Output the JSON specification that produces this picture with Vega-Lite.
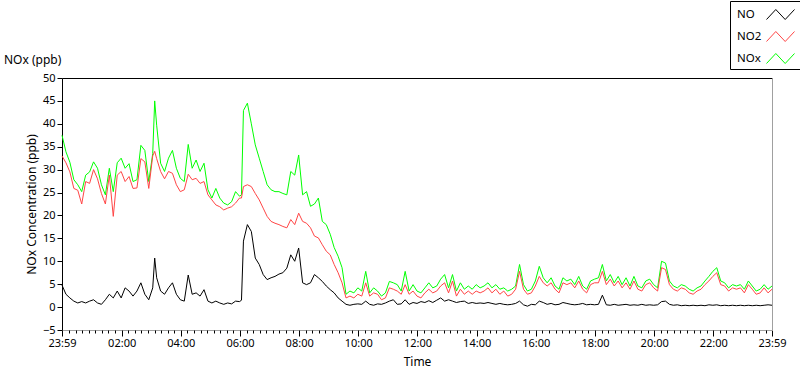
{
  "$schema": "https://vega.github.io/schema/vega-lite/v6.json",
  "width": 710,
  "height": 252,
  "autosize": "none",
  "padding": {"left": 62, "top": 78, "right": 28, "bottom": 39},
  "background": "white",
  "config": {
    "view": {"stroke": null},
    "font": "Noto Sans",
    "axis": {"labelFont": "Noto Sans", "titleFont": "Noto Sans", "labelColor": "#000", "titleColor": "#000", "grid": false}
  },
  "title": {"text": "NOx (ppb)", "anchor": "start", "frame": "group", "dx": -58, "offset": 0, "baseline": "bottom", "dy": 78, "fontSize": 12, "fontWeight": "normal", "color": "#000", "font": "Noto Sans"},
  "data": {"values": [
    {"m":0,"NO":4.8,"NO2":33,"NOx":37.5},
    {"m":8,"NO":2.8,"NO2":31.5,"NOx":33.9},
    {"m":16,"NO":2.0,"NO2":29.5,"NOx":31.6},
    {"m":24,"NO":1.3,"NO2":25.9,"NOx":27.8},
    {"m":32,"NO":0.9,"NO2":25.5,"NOx":26.7},
    {"m":40,"NO":1.2,"NO2":22.5,"NOx":25.2},
    {"m":48,"NO":0.9,"NO2":27.4,"NOx":28.8},
    {"m":56,"NO":1.3,"NO2":27,"NOx":29.5},
    {"m":64,"NO":1.6,"NO2":30,"NOx":31.7},
    {"m":72,"NO":0.9,"NO2":28,"NOx":30.3},
    {"m":80,"NO":0.6,"NO2":24.8,"NOx":26.7},
    {"m":88,"NO":1.6,"NO2":22.5,"NOx":24.5},
    {"m":96,"NO":2.8,"NO2":28.8,"NOx":30.3},
    {"m":104,"NO":2.0,"NO2":19.8,"NOx":25.2},
    {"m":112,"NO":3.5,"NO2":28.8,"NOx":31.5},
    {"m":120,"NO":2.0,"NO2":29.6,"NOx":32.5},
    {"m":128,"NO":4.2,"NO2":27.4,"NOx":30.3},
    {"m":136,"NO":3.5,"NO2":28.5,"NOx":31.3},
    {"m":144,"NO":2.4,"NO2":25.9,"NOx":27.4},
    {"m":152,"NO":3.5,"NO2":26,"NOx":27.8},
    {"m":160,"NO":5.3,"NO2":32.4,"NOx":35.3},
    {"m":168,"NO":2.8,"NO2":31.7,"NOx":34.2},
    {"m":176,"NO":1.6,"NO2":25.9,"NOx":27.4},
    {"m":184,"NO":4.2,"NO2":33,"NOx":33.5},
    {"m":188,"NO":10.7,"NO2":34,"NOx":45},
    {"m":192,"NO":6.4,"NO2":32.4,"NOx":39.7},
    {"m":200,"NO":3.5,"NO2":29.6,"NOx":31.4},
    {"m":208,"NO":2.8,"NO2":28,"NOx":29.6},
    {"m":216,"NO":4.2,"NO2":29.6,"NOx":32.5},
    {"m":224,"NO":5.3,"NO2":29.2,"NOx":34.2},
    {"m":232,"NO":2.8,"NO2":26.7,"NOx":30.3},
    {"m":240,"NO":1.6,"NO2":25.2,"NOx":28.1},
    {"m":248,"NO":1.3,"NO2":25.6,"NOx":27.4},
    {"m":256,"NO":7.0,"NO2":29,"NOx":35.5},
    {"m":264,"NO":2.8,"NO2":27.8,"NOx":30.3},
    {"m":272,"NO":3.1,"NO2":28.1,"NOx":32.1},
    {"m":280,"NO":2.4,"NO2":27,"NOx":29.6},
    {"m":288,"NO":3.8,"NO2":27.4,"NOx":31.4},
    {"m":296,"NO":1.3,"NO2":24.5,"NOx":25.6},
    {"m":304,"NO":0.9,"NO2":23.4,"NOx":23.8},
    {"m":312,"NO":1.3,"NO2":22.3,"NOx":25.9},
    {"m":320,"NO":0.9,"NO2":21.9,"NOx":23.8},
    {"m":328,"NO":0.6,"NO2":21.2,"NOx":22.7},
    {"m":336,"NO":0.9,"NO2":21.6,"NOx":22.3},
    {"m":344,"NO":0.7,"NO2":21.9,"NOx":23.0},
    {"m":352,"NO":1.3,"NO2":22.7,"NOx":25.2},
    {"m":360,"NO":1.2,"NO2":23.8,"NOx":24.2},
    {"m":364,"NO":1.5,"NO2":23.8,"NOx":24.5},
    {"m":368,"NO":14.4,"NO2":26.3,"NOx":42.9},
    {"m":376,"NO":18,"NO2":26.7,"NOx":44.5},
    {"m":384,"NO":16.5,"NO2":26.3,"NOx":40},
    {"m":392,"NO":10.7,"NO2":24.8,"NOx":35.4},
    {"m":400,"NO":9.3,"NO2":23.4,"NOx":32.5},
    {"m":408,"NO":7.1,"NO2":21.6,"NOx":29.6},
    {"m":416,"NO":6.0,"NO2":19.8,"NOx":26.7},
    {"m":424,"NO":6.4,"NO2":18.7,"NOx":25.6},
    {"m":432,"NO":6.7,"NO2":18.3,"NOx":25.2},
    {"m":440,"NO":7.2,"NO2":18,"NOx":25.2},
    {"m":448,"NO":7.5,"NO2":17.6,"NOx":24.8},
    {"m":456,"NO":8.5,"NO2":17.3,"NOx":24.5},
    {"m":464,"NO":11.4,"NO2":19.1,"NOx":29.6},
    {"m":472,"NO":10,"NO2":18,"NOx":28.8},
    {"m":480,"NO":12.9,"NO2":20.5,"NOx":33.2},
    {"m":488,"NO":5.3,"NO2":18.7,"NOx":24.5},
    {"m":496,"NO":4.9,"NO2":18.3,"NOx":25.2},
    {"m":504,"NO":5.3,"NO2":17.3,"NOx":22},
    {"m":512,"NO":7.1,"NO2":15.5,"NOx":22.5},
    {"m":520,"NO":6.4,"NO2":15.1,"NOx":23.8},
    {"m":528,"NO":5.6,"NO2":13.6,"NOx":18.7},
    {"m":536,"NO":4.6,"NO2":12.2,"NOx":18},
    {"m":544,"NO":3.8,"NO2":11.4,"NOx":15.9},
    {"m":552,"NO":3.1,"NO2":9.3,"NOx":13},
    {"m":560,"NO":2.0,"NO2":7.5,"NOx":11.1},
    {"m":568,"NO":1.3,"NO2":5.3,"NOx":8.6},
    {"m":576,"NO":0.6,"NO2":2.0,"NOx":2.8},
    {"m":584,"NO":0.4,"NO2":2.4,"NOx":3.5},
    {"m":592,"NO":0.6,"NO2":2.0,"NOx":3.1},
    {"m":600,"NO":0.7,"NO2":2.8,"NOx":4.2},
    {"m":608,"NO":0.6,"NO2":2.4,"NOx":3.5},
    {"m":616,"NO":1.3,"NO2":5.3,"NOx":7.8},
    {"m":624,"NO":0.6,"NO2":2.4,"NOx":3.1},
    {"m":632,"NO":0.4,"NO2":3.1,"NOx":4.2},
    {"m":640,"NO":0.7,"NO2":2.8,"NOx":3.5},
    {"m":648,"NO":0.6,"NO2":1.6,"NOx":2.4},
    {"m":656,"NO":0.9,"NO2":2.0,"NOx":3.1},
    {"m":664,"NO":1.3,"NO2":4.2,"NOx":5.6},
    {"m":672,"NO":1.6,"NO2":3.9,"NOx":5.3},
    {"m":680,"NO":0.6,"NO2":3.5,"NOx":4.9},
    {"m":688,"NO":0.7,"NO2":2.8,"NOx":3.5},
    {"m":696,"NO":1.6,"NO2":4.9,"NOx":7.8},
    {"m":704,"NO":0.6,"NO2":2.8,"NOx":3.5},
    {"m":712,"NO":1.0,"NO2":3.5,"NOx":4.9},
    {"m":720,"NO":0.8,"NO2":2.4,"NOx":3.5},
    {"m":728,"NO":1.2,"NO2":2.0,"NOx":3.1},
    {"m":736,"NO":1.0,"NO2":3.1,"NOx":4.2},
    {"m":744,"NO":1.4,"NO2":3.9,"NOx":5.3},
    {"m":752,"NO":1.0,"NO2":3.1,"NOx":4.2},
    {"m":760,"NO":1.5,"NO2":3.5,"NOx":4.6},
    {"m":768,"NO":2.0,"NO2":4.6,"NOx":6.1},
    {"m":776,"NO":1.3,"NO2":5.3,"NOx":7.1},
    {"m":784,"NO":1.6,"NO2":3.1,"NOx":4.2},
    {"m":792,"NO":1.3,"NO2":5.7,"NOx":7.1},
    {"m":800,"NO":1.0,"NO2":2.4,"NOx":3.5},
    {"m":808,"NO":1.2,"NO2":3.9,"NOx":5.3},
    {"m":816,"NO":1.3,"NO2":2.8,"NOx":3.9},
    {"m":824,"NO":0.8,"NO2":3.5,"NOx":4.6},
    {"m":832,"NO":1.0,"NO2":2.8,"NOx":3.9},
    {"m":840,"NO":0.8,"NO2":3.5,"NOx":4.9},
    {"m":848,"NO":0.9,"NO2":3.1,"NOx":4.2},
    {"m":856,"NO":0.8,"NO2":3.5,"NOx":4.6},
    {"m":864,"NO":1.0,"NO2":4.2,"NOx":5.3},
    {"m":872,"NO":0.8,"NO2":3.1,"NOx":4.2},
    {"m":880,"NO":0.6,"NO2":3.9,"NOx":4.9},
    {"m":888,"NO":0.8,"NO2":2.8,"NOx":3.9},
    {"m":896,"NO":0.6,"NO2":3.5,"NOx":4.2},
    {"m":904,"NO":0.5,"NO2":2.4,"NOx":3.5},
    {"m":912,"NO":0.6,"NO2":2.8,"NOx":3.9},
    {"m":920,"NO":0.8,"NO2":3.9,"NOx":4.6},
    {"m":928,"NO":1.3,"NO2":7.8,"NOx":9.3},
    {"m":936,"NO":0.5,"NO2":3.9,"NOx":4.9},
    {"m":944,"NO":0.2,"NO2":2.8,"NOx":3.5},
    {"m":952,"NO":0.6,"NO2":3.1,"NOx":3.9},
    {"m":960,"NO":0.5,"NO2":4.6,"NOx":5.7},
    {"m":968,"NO":1.3,"NO2":6.7,"NOx":8.9},
    {"m":976,"NO":1.0,"NO2":5.3,"NOx":6.4},
    {"m":984,"NO":0.6,"NO2":4.6,"NOx":5.3},
    {"m":992,"NO":0.8,"NO2":5.3,"NOx":6.4},
    {"m":1000,"NO":0.5,"NO2":3.9,"NOx":4.6},
    {"m":1008,"NO":0.6,"NO2":3.1,"NOx":3.9},
    {"m":1016,"NO":1.0,"NO2":5.3,"NOx":6.4},
    {"m":1024,"NO":0.8,"NO2":4.9,"NOx":5.7},
    {"m":1032,"NO":0.6,"NO2":5.3,"NOx":6.1},
    {"m":1040,"NO":0.5,"NO2":4.2,"NOx":4.9},
    {"m":1048,"NO":0.6,"NO2":5.7,"NOx":6.7},
    {"m":1056,"NO":0.8,"NO2":3.9,"NOx":4.6},
    {"m":1064,"NO":0.5,"NO2":3.1,"NOx":3.9},
    {"m":1072,"NO":0.6,"NO2":4.9,"NOx":5.7},
    {"m":1080,"NO":0.5,"NO2":5.3,"NOx":6.1},
    {"m":1088,"NO":0.6,"NO2":5.3,"NOx":6.4},
    {"m":1096,"NO":2.6,"NO2":7.8,"NOx":9.3},
    {"m":1104,"NO":0.5,"NO2":4.9,"NOx":5.7},
    {"m":1112,"NO":0.4,"NO2":6.1,"NOx":7.1},
    {"m":1120,"NO":0.6,"NO2":4.6,"NOx":5.3},
    {"m":1128,"NO":0.4,"NO2":5.7,"NOx":6.7},
    {"m":1136,"NO":0.5,"NO2":4.2,"NOx":4.9},
    {"m":1144,"NO":0.6,"NO2":5.3,"NOx":6.4},
    {"m":1152,"NO":0.4,"NO2":3.9,"NOx":4.6},
    {"m":1160,"NO":0.5,"NO2":5.7,"NOx":6.7},
    {"m":1168,"NO":0.4,"NO2":3.9,"NOx":4.6},
    {"m":1176,"NO":0.6,"NO2":3.5,"NOx":4.2},
    {"m":1184,"NO":0.4,"NO2":4.9,"NOx":5.7},
    {"m":1192,"NO":0.5,"NO2":5.3,"NOx":6.1},
    {"m":1200,"NO":0.4,"NO2":4.2,"NOx":4.9},
    {"m":1208,"NO":0.5,"NO2":3.5,"NOx":4.2},
    {"m":1216,"NO":1.2,"NO2":8.6,"NOx":10.0},
    {"m":1224,"NO":1.3,"NO2":8.2,"NOx":9.6},
    {"m":1232,"NO":0.6,"NO2":4.9,"NOx":5.7},
    {"m":1240,"NO":0.4,"NO2":3.9,"NOx":4.6},
    {"m":1248,"NO":0.5,"NO2":3.5,"NOx":4.2},
    {"m":1256,"NO":0.3,"NO2":4.2,"NOx":4.9},
    {"m":1264,"NO":0.4,"NO2":3.9,"NOx":4.6},
    {"m":1272,"NO":0.3,"NO2":3.1,"NOx":3.9},
    {"m":1280,"NO":0.4,"NO2":2.8,"NOx":3.5},
    {"m":1288,"NO":0.3,"NO2":3.5,"NOx":4.2},
    {"m":1296,"NO":0.4,"NO2":3.9,"NOx":4.6},
    {"m":1304,"NO":0.3,"NO2":4.9,"NOx":5.7},
    {"m":1312,"NO":0.5,"NO2":5.7,"NOx":6.7},
    {"m":1320,"NO":0.4,"NO2":6.7,"NOx":7.8},
    {"m":1328,"NO":0.5,"NO2":7.5,"NOx":8.6},
    {"m":1336,"NO":0.3,"NO2":4.9,"NOx":5.7},
    {"m":1344,"NO":0.4,"NO2":4.6,"NOx":5.3},
    {"m":1352,"NO":0.3,"NO2":3.5,"NOx":4.2},
    {"m":1360,"NO":0.4,"NO2":4.2,"NOx":4.9},
    {"m":1368,"NO":0.3,"NO2":3.9,"NOx":4.6},
    {"m":1376,"NO":0.4,"NO2":4.2,"NOx":4.9},
    {"m":1384,"NO":0.3,"NO2":3.1,"NOx":3.9},
    {"m":1392,"NO":0.4,"NO2":4.9,"NOx":5.7},
    {"m":1400,"NO":0.3,"NO2":3.9,"NOx":4.6},
    {"m":1408,"NO":0.4,"NO2":2.8,"NOx":3.5},
    {"m":1416,"NO":0.3,"NO2":3.1,"NOx":3.9},
    {"m":1424,"NO":0.4,"NO2":4.2,"NOx":4.9},
    {"m":1432,"NO":0.5,"NO2":3.1,"NOx":3.9},
    {"m":1440,"NO":0.4,"NO2":3.9,"NOx":4.6}
  ]},
  "transform": [{"fold": ["NO", "NO2", "NOx"], "as": ["series", "value"]}],
  "layer": [
    {
      "transform": [{"filter": "datum.series === 'NOx'"}],
      "mark": {"type": "line", "strokeWidth": 1, "interpolate": "linear"},
      "encoding": {
        "x": {"field": "m", "type": "quantitative", "scale": {"domain": [0, 1440], "nice": false, "zero": false},
          "axis": {"values": [0, 121, 241, 361, 481, 601, 721, 841, 961, 1081, 1201, 1321, 1440],
            "labelExpr": "(datum.value <= 0 || datum.value >= 1440) ? '23:59' : ((floor((datum.value + 1) / 60) < 10 ? '0' : '') + floor((datum.value + 1) / 60) + ':00')",
            "orient": "bottom", "tickSize": 6, "tickColor": "#000", "domainColor": "#a0a0a0", "labelPadding": 1, "labelFontSize": 11, "labelFlush": false, "labelOverlap": false,
            "title": "Time", "titleFontSize": 12, "titleFontWeight": "normal", "titlePadding": 8}},
        "y": {"field": "value", "type": "quantitative", "scale": {"domain": [-5, 50], "nice": false, "zero": false},
          "axis": {"values": [-5, 0, 5, 10, 15, 20, 25, 30, 35, 40, 45, 50], "orient": "left", "tickSize": 5, "tickColor": "#000", "domainColor": "#000", "labelPadding": 2, "labelFontSize": 11,
            "title": "NOx Concentration (ppb)", "titleFontSize": 12, "titleFontWeight": "normal", "titleX": -31, "titleBaseline": "middle"}},
        "color": {"field": "series", "type": "nominal",
          "scale": {"domain": ["NO", "NO2", "NOx"], "range": ["#000000", "#ff4545", "#00ff00"]},
          "legend": {"orient": "none", "legendX": 668, "legendY": -77, "title": null,
            "symbolType": "M-1.4,0.5L-0.47,-0.5L0.47,0.5L1.4,-0.5", "symbolSize": 400, "symbolStrokeWidth": 1, "symbolFillColor": "transparent",
            "labelOffset": -54, "symbolOffset": 37, "labelFontSize": 11.5, "labelColor": "#000", "labelFont": "Noto Sans",
            "rowPadding": 4, "padding": 3, "strokeColor": "#000", "fillColor": "white"}}
      }
    },
    {
      "transform": [{"filter": "datum.series === 'NO2'"}],
      "mark": {"type": "line", "strokeWidth": 1},
      "encoding": {
        "x": {"field": "m", "type": "quantitative", "axis": null},
        "y": {"field": "value", "type": "quantitative", "axis": null},
        "color": {"field": "series", "type": "nominal"}
      }
    },
    {
      "transform": [{"filter": "datum.series === 'NO'"}],
      "mark": {"type": "line", "strokeWidth": 1},
      "encoding": {
        "x": {"field": "m", "type": "quantitative", "axis": null},
        "y": {"field": "value", "type": "quantitative", "axis": null},
        "color": {"field": "series", "type": "nominal"}
      }
    },
    {
      "transform": [{"filter": "datum.series === 'NO'"}],
      "mark": {"type": "point", "opacity": 0},
      "encoding": {
        "x": {"field": "m", "type": "quantitative",
          "axis": {"orient": "bottom", "values": [14.3,27.7,41,54.3,67.7,81,94.3,107.7,121,134.3,147.7,161,174.3,187.7,201,214.3,227.7,241,254.3,267.7,281,294.3,307.7,321,334.3,347.7,361,374.3,387.7,401,414.3,427.7,441,454.3,467.7,481,494.3,507.7,521,534.3,547.7,561,574.3,587.7,601,614.3,627.7,641,654.3,667.7,681,694.3,707.7,721,734.3,747.7,761,774.3,787.7,801,814.3,827.7,841,854.3,867.7,881,894.3,907.7,921,934.3,947.7,961,974.3,987.7,1001,1014.3,1027.7,1041,1054.3,1067.7,1081,1094.3,1107.7,1121,1134.3,1147.7,1161,1174.3,1187.7,1201,1214.3,1227.7,1241,1254.3,1267.7,1281,1294.3,1307.7,1321,1334.3,1347.7,1361,1374.3,1387.7,1401,1414.3,1427.7],
            "labels": false, "domain": false, "tickSize": 3, "tickColor": "#000", "title": null}},
        "y": {"field": "value", "type": "quantitative",
          "axis": {"orient": "right", "labels": false, "ticks": false, "domainColor": "#a0a0a0", "title": null}}
      }
    },
    {
      "transform": [{"filter": "datum.series === 'NO'"}],
      "mark": {"type": "point", "opacity": 0},
      "encoding": {
        "x": {"field": "m", "type": "quantitative",
          "axis": {"orient": "top", "labels": false, "ticks": false, "domainColor": "#000", "title": null}},
        "y": {"field": "value", "type": "quantitative", "axis": null}
      }
    }
  ],
  "resolve": {"axis": {"x": "independent", "y": "independent"}}
}
